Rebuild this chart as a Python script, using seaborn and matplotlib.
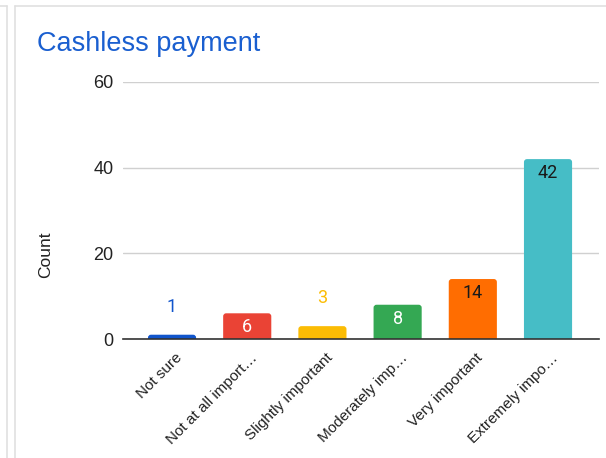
import matplotlib
matplotlib.use("Agg")
import matplotlib.pyplot as plt
import matplotlib.transforms as mtransforms
import seaborn as sns
import pandas as pd
from matplotlib.lines import Line2D
from matplotlib.patches import FancyBboxPatch
from matplotlib.colors import to_rgb

categories = ["Not sure", "Not at all import…", "Slightly important",
              "Moderately imp…", "Very important", "Extremely impo…"]
counts = [1, 6, 3, 8, 14, 42]
colors = ["#1155cc", "#ea4335", "#fbbc04", "#34a853", "#ff6d01", "#46bdc6"]
yticks = [0, 20, 40, 60]
title = "Cashless payment"
ylabel = "Count"

sns.set_theme(style="white")
plt.rcParams["font.family"] = ["Liberation Sans", "DejaVu Sans"]

df = pd.DataFrame({"cat": categories, "count": counts})

W, H = 606, 458
fig = plt.figure(figsize=(W / 100, H / 100), dpi=100)
fig.patch.set_facecolor("white")
ax = fig.add_axes([123 / W, 1 - 339 / H, (599 - 123) / W, (339 - 82) / H])

sns.barplot(data=df, x="cat", y="count", hue="cat", palette=colors,
            order=categories, hue_order=categories, legend=False,
            width=0.64, ax=ax, saturation=1, edgecolor="none")

ax.set_ylim(0, 60)
ax.set_xlim(-0.652, 5.678)

# rounded bar tops (radius ~3 px), bottoms pushed below the baseline and clipped
px_x = (ax.get_xlim()[1] - ax.get_xlim()[0]) / (599 - 123)
px_y = (ax.get_ylim()[1] - ax.get_ylim()[0]) / (339 - 82)
rx, ry = 3 * px_x, 3 * px_y
for p in list(ax.patches):
    x0, w, h = p.get_x(), p.get_width(), p.get_height()
    fb = FancyBboxPatch((x0, -ry), w, h + ry,
                        boxstyle=f"round,pad=0,rounding_size={rx}",
                        mutation_aspect=ry / rx, facecolor=p.get_facecolor(),
                        edgecolor="none", zorder=p.get_zorder())
    ax.add_patch(fb)
    p.set_visible(False)

ax.set_yticks(yticks)
ax.yaxis.grid(True, color="#d0d0d0", linewidth=1)
ax.set_axisbelow(True)
for s in ["left", "right", "top"]:
    ax.spines[s].set_visible(False)
ax.spines["bottom"].set_color("#333333")
ax.spines["bottom"].set_linewidth(1.2)
ax.spines["bottom"].set_zorder(5)
ax.tick_params(axis="both", length=0)
ax.tick_params(axis="y", pad=7, labelsize=13, labelcolor="#222222")
ax.set_xlabel("")
ax.set_ylabel("")
ax.set_xticks(range(len(categories)))
ax.set_xticklabels(categories, rotation=45, ha="right", va="center",
                   rotation_mode="anchor", fontsize=11, color="#222222")
ax.tick_params(axis="x", pad=12)
offset = mtransforms.ScaledTranslation(8 / 100, 0, fig.dpi_scale_trans)
for lab in ax.get_xticklabels():
    lab.set_transform(lab.get_transform() + offset)

# data labels
for i, (v, c) in enumerate(zip(counts, colors)):
    r, g, b = to_rgb(c)
    lum = 0.299 * r + 0.587 * g + 0.114 * b
    if v < 5:
        ax.annotate(str(v), (i, v), xytext=(0, 20), textcoords="offset points",
                    ha="center", va="center", fontsize=13, color=c,
                    family=["Roboto", "DejaVu Sans"])
    else:
        tc = "white" if lum < 0.51 else "#1a1a1a"
        ax.annotate(str(v), (i, v), xytext=(0, -10), textcoords="offset points",
                    ha="center", va="center", fontsize=13, color=tc,
                    family=["Roboto", "DejaVu Sans"])

fig.text(37 / W, 1 - 51 / H, title, fontsize=19.5, color="#1a5fd0",
         ha="left", va="baseline")
fig.text(46 / W, 1 - 255 / H, ylabel, rotation=90, fontsize=12.5,
         color="#222222", ha="center", va="center")

# card borders
border = "#e0e0e0"
fig.add_artist(Line2D([7 / W, 7 / W], [0, 1 - 6 / H], color=border, lw=1.2))
fig.add_artist(Line2D([0, 7 / W], [1 - 6 / H, 1 - 6 / H], color=border, lw=1.2))
fig.add_artist(Line2D([15 / W, 15 / W], [0, 1 - 6 / H], color=border, lw=1.2))
fig.add_artist(Line2D([15 / W, 1], [1 - 6 / H, 1 - 6 / H], color=border, lw=1.2))

fig.savefig("out.png", dpi=100, facecolor="white")
